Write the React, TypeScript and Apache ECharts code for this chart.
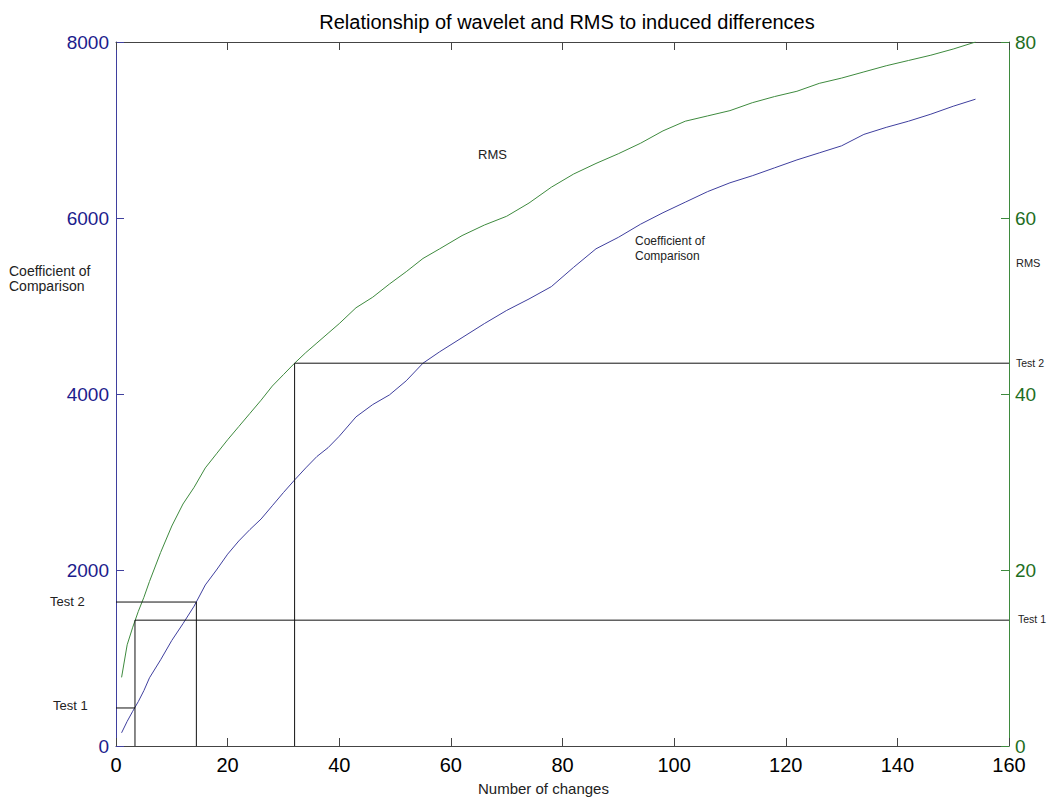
import React, { useEffect, useRef } from "react";
import * as echarts from "echarts";

const changes = [1, 2, 3, 4, 5, 6, 8, 10, 12, 14, 16, 18, 20, 22, 24, 26, 28, 30, 32, 34, 36, 38, 40, 43, 46, 49, 52, 55, 58, 62, 66, 70, 74, 78, 82, 86, 90, 94, 98, 102, 106, 110, 114, 118, 122, 126, 130, 134, 138, 142, 146, 150, 154];
const coefficient = [150, 280, 395, 505, 630, 775, 980, 1200, 1390, 1590, 1830, 2000, 2180, 2330, 2460, 2580, 2730, 2880, 3023, 3160, 3290, 3390, 3520, 3740, 3880, 3990, 4150, 4350, 4480, 4640, 4800, 4950, 5080, 5220, 5440, 5650, 5780, 5930, 6060, 6180, 6300, 6400, 6480, 6570, 6660, 6740, 6820, 6950, 7030, 7100, 7180, 7270, 7350];
const rms = [7.8, 11.5, 13.5, 15.3, 16.9, 18.7, 22.0, 25.0, 27.5, 29.4, 31.6, 33.2, 34.8, 36.3, 37.8, 39.3, 40.9, 42.2, 43.5, 44.7, 45.8, 46.9, 48.0, 49.8, 51.0, 52.5, 53.9, 55.4, 56.5, 58.0, 59.2, 60.2, 61.7, 63.5, 65.0, 66.2, 67.3, 68.5, 69.9, 71.0, 71.6, 72.2, 73.1, 73.8, 74.4, 75.3, 75.9, 76.6, 77.3, 77.9, 78.5, 79.2, 80.0];

// Test markers
const test1 = { x: 3.4, coef: 432, rms: 14.3 };
const test2Coef = { x: 14.4, coef: 1636 };
const test2Rms = { x: 32, rms: 43.5 };

const xTicks = [0, 20, 40, 60, 80, 100, 120, 140, 160];

const FONT = "Liberation Sans, Arial, sans-serif";
const BLUE_LINE = "#3f3f9e";
const GREEN_LINE = "#3e8a3e";
const BLUE_TXT = "#1c1c8c";
const GREEN_TXT = "#1e6e1e";

export default function App() {
  const ref = useRef<HTMLDivElement>(null);
  useEffect(() => {
    if (!ref.current) return;
    const chart = echarts.init(ref.current, undefined, { renderer: "svg" });
    const blackLine = { color: "#111", width: 1 };
    const option: any = {
      animation: false,
      backgroundColor: "#fff",
      textStyle: { fontFamily: FONT },
      title: {
        text: "Relationship of wavelet and RMS to induced differences",
        left: 562,
        textAlign: "center",
        top: 7,
        textStyle: { fontSize: 20, fontWeight: "normal", color: "#000", fontFamily: FONT },
      },
      grid: { left: 116, right: 43, top: 42, bottom: 51, containLabel: false },
      xAxis: [
        {
          type: "value",
          min: xTicks[0],
          max: xTicks[xTicks.length - 1],
          interval: 20,
          position: "bottom",
          axisLine: { onZero: false, lineStyle: { color: "#444", width: 1 } },
          axisTick: { inside: true, length: 8, lineStyle: { color: "#444" } },
          axisLabel: { fontSize: 20, color: "#000", margin: 9, fontFamily: FONT },
          splitLine: { show: false },
        },
        {
          type: "value",
          min: xTicks[0],
          max: xTicks[xTicks.length - 1],
          interval: 20,
          position: "top",
          axisLine: { onZero: false, lineStyle: { color: "#444", width: 1 } },
          axisTick: { inside: true, length: 8, lineStyle: { color: "#444" } },
          axisLabel: { show: false },
          splitLine: { show: false },
        },
      ],
      yAxis: [
        {
          type: "value",
          min: 0,
          max: 8000,
          interval: 2000,
          position: "left",
          axisLine: { show: true, onZero: false, lineStyle: { color: BLUE_LINE, width: 1 } },
          axisTick: { show: true, inside: true, length: 8, lineStyle: { color: BLUE_LINE } },
          axisLabel: { fontSize: 19, color: BLUE_TXT, margin: 7, fontFamily: FONT, formatter: (v: number) => String(v) },
          splitLine: { show: false },
        },
        {
          type: "value",
          min: 0,
          max: 80,
          interval: 20,
          position: "right",
          axisLine: { show: true, onZero: false, lineStyle: { color: GREEN_LINE, width: 1 } },
          axisTick: { show: true, inside: true, length: 8, lineStyle: { color: GREEN_LINE } },
          axisLabel: { fontSize: 19, color: GREEN_TXT, margin: 6, fontFamily: FONT, formatter: (v: number) => String(v), verticalAlign: "middle" },
          splitLine: { show: false },
        },
      ],
      series: [
        {
          type: "line",
          name: "Coefficient of Comparison",
          yAxisIndex: 0,
          data: changes.map((c, i) => [c, coefficient[i]]),
          showSymbol: false,
          lineStyle: { color: BLUE_LINE, width: 1 },
          itemStyle: { color: BLUE_LINE },
        },
        {
          type: "line",
          name: "RMS",
          yAxisIndex: 1,
          data: changes.map((c, i) => [c, rms[i]]),
          showSymbol: false,
          lineStyle: { color: GREEN_LINE, width: 1 },
          itemStyle: { color: GREEN_LINE },
        },
        {
          type: "line",
          yAxisIndex: 0,
          data: [[0, test1.coef], [test1.x, test1.coef]],
          showSymbol: false,
          lineStyle: blackLine,
        },
        {
          type: "line",
          yAxisIndex: 1,
          data: [[test1.x, 0], [test1.x, test1.rms], [160, test1.rms]],
          showSymbol: false,
          lineStyle: blackLine,
        },
        {
          type: "line",
          yAxisIndex: 0,
          data: [[0, test2Coef.coef], [test2Coef.x, test2Coef.coef], [test2Coef.x, 0]],
          showSymbol: false,
          lineStyle: blackLine,
        },
        {
          type: "line",
          yAxisIndex: 1,
          data: [[test2Rms.x, 0], [test2Rms.x, test2Rms.rms], [160, test2Rms.rms]],
          showSymbol: false,
          lineStyle: blackLine,
        },
      ],
      graphic: [
        { type: "text", left: 478, top: 781, style: { text: "Number of changes", fill: "#222", font: `15px ${FONT}` } },
        { type: "text", left: 9, top: 263, style: { text: "Coefficient of\nComparison", fill: "#222", font: `14px ${FONT}`, lineHeight: 15 } },
        { type: "text", left: 1016, top: 257, style: { text: "RMS", fill: "#222", font: `11px ${FONT}` } },
        { type: "text", left: 478, top: 148, style: { text: "RMS", fill: "#222", font: `13px ${FONT}` } },
        { type: "text", left: 635, top: 233, style: { text: "Coefficient of\nComparison", fill: "#222", font: `12px ${FONT}`, lineHeight: 15 } },
        { type: "text", left: 50, top: 595, style: { text: "Test 2", fill: "#222", font: `13px ${FONT}` } },
        { type: "text", left: 53, top: 699, style: { text: "Test 1", fill: "#222", font: `13px ${FONT}` } },
        { type: "text", left: 1016, top: 357, style: { text: "Test 2", fill: "#222", font: `10.5px ${FONT}` } },
        { type: "text", left: 1018, top: 613, style: { text: "Test 1", fill: "#222", font: `10.5px ${FONT}` } },
      ],
    };
    chart.setOption(option);
    return () => chart.dispose();
  }, []);
  return (
    <div
      ref={ref}
      style={{ position: "fixed", left: 0, top: 0, width: 1052, height: 797, background: "#fff" }}
    />
  );
}
